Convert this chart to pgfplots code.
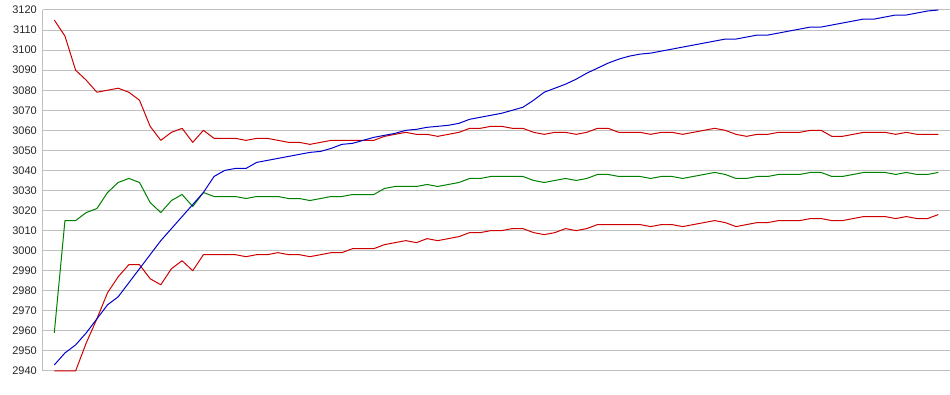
\documentclass[border=0pt]{standalone}
\usepackage{fontspec}
\setmainfont{Liberation Sans}
\usepackage{pgfplots}
\pgfplotsset{compat=1.18}
\usepackage{pgfplotstable}
\definecolor{cred}{RGB}{204,0,0}
\definecolor{cblue}{RGB}{0,0,204}
\definecolor{cgreen}{RGB}{0,128,0}
\definecolor{gridgray}{RGB}{192,192,192}
\pgfplotstableread{
x R1 G B R2
0 3115 2959 2943 2940
1 3107 3015 2949 2940
2 3090 3015 2953 2940
3 3085 3019 2959 2954
4 3079 3021 2966 2966
5 3080 3029 2973 2979
6 3081 3034 2977 2987
7 3079 3036 2984 2993
8 3075 3034 2991 2993
9 3062 3024 2998 2986
10 3055 3019 3005 2983
11 3059 3025 3011 2991
12 3061 3028 3017 2995
13 3054 3022 3023 2990
14 3060 3029 3029 2998
15 3056 3027 3037 2998
16 3056 3027 3040 2998
17 3056 3027 3041 2998
18 3055 3026 3041 2997
19 3056 3027 3044 2998
20 3056 3027 3045 2998
21 3055 3027 3046 2999
22 3054 3026 3047 2998
23 3054 3026 3048 2998
24 3053 3025 3049 2997
25 3054 3026 3049.5 2998
26 3055 3027 3051 2999
27 3055 3027 3053 2999
28 3055 3028 3053.5 3001
29 3055 3028 3055 3001
30 3055 3028 3056.5 3001
31 3057 3031 3057.5 3003
32 3058 3032 3058.5 3004
33 3059 3032 3060 3005
34 3058 3032 3060.5 3004
35 3058 3033 3061.5 3006
36 3057 3032 3062 3005
37 3058 3033 3062.5 3006
38 3059 3034 3063.5 3007
39 3061 3036 3065.5 3009
40 3061 3036 3066.5 3009
41 3062 3037 3067.5 3010
42 3062 3037 3068.5 3010
43 3061 3037 3070 3011
44 3061 3037 3071.5 3011
45 3059 3035 3075 3009
46 3058 3034 3079 3008
47 3059 3035 3081 3009
48 3059 3036 3083 3011
49 3058 3035 3085.5 3010
50 3059 3036 3088.5 3011
51 3061 3038 3091 3013
52 3061 3038 3093.5 3013
53 3059 3037 3095.5 3013
54 3059 3037 3097 3013
55 3059 3037 3098 3013
56 3058 3036 3098.5 3012
57 3059 3037 3099.5 3013
58 3059 3037 3100.5 3013
59 3058 3036 3101.5 3012
60 3059 3037 3102.5 3013
61 3060 3038 3103.5 3014
62 3061 3039 3104.5 3015
63 3060 3038 3105.5 3014
64 3058 3036 3105.5 3012
65 3057 3036 3106.5 3013
66 3058 3037 3107.5 3014
67 3058 3037 3107.5 3014
68 3059 3038 3108.5 3015
69 3059 3038 3109.5 3015
70 3059 3038 3110.5 3015
71 3060 3039 3111.5 3016
72 3060 3039 3111.5 3016
73 3057 3037 3112.5 3015
74 3057 3037 3113.5 3015
75 3058 3038 3114.5 3016
76 3059 3039 3115.5 3017
77 3059 3039 3115.5 3017
78 3059 3039 3116.5 3017
79 3058 3038 3117.5 3016
80 3059 3039 3117.5 3017
81 3058 3038 3118.5 3016
82 3058 3038 3119.5 3016
83 3058 3039 3120 3018
}\data
\begin{document}
\begin{tikzpicture}
\useasboundingbox (0,0) rectangle (950pt,395pt);
\begin{axis}[
  at={(43pt,24pt)}, anchor=south west,
  scale only axis, width=907pt, height=361pt,
  xmin=-1.06, xmax=84.1, ymin=2940, ymax=3120,
  ytick={2940,2950,...,3120}, xtick=\empty,
  ymajorgrids, grid style={color=gridgray, line width=1pt},
  major tick length=0pt,
  axis x line=none, axis y line*=left,
  y axis line style={draw=gridgray, line width=1pt, -},
  yticklabel style={font=\fontsize{11}{13}\selectfont, anchor=east, inner sep=0pt, xshift=-6pt, text=black!85},
  /pgf/number format/assume math mode=true,
  /pgf/number format/set thousands separator={},
  clip=false,
  every axis plot/.append style={line width=1pt, no markers, line join=round},
]
\addplot[cred] table[x=x, y=R1] {\data};
\addplot[cred] table[x=x, y=R2] {\data};
\addplot[cgreen] table[x=x, y=G] {\data};
\addplot[cblue] table[x=x, y=B] {\data};
\end{axis}
\end{tikzpicture}
\end{document}
